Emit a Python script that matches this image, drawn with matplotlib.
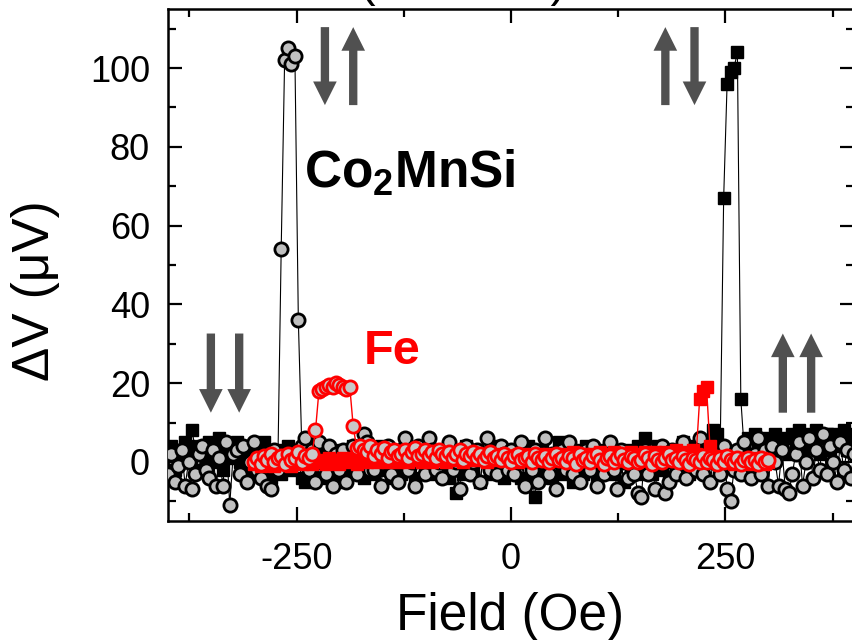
import numpy as np
import matplotlib
matplotlib.use('Agg')
import matplotlib.pyplot as plt
from matplotlib.ticker import MultipleLocator

plt.rcParams['font.family'] = ['Liberation Sans', 'DejaVu Sans']
plt.rcParams['mathtext.fontset'] = 'custom'
plt.rcParams['mathtext.rm'] = 'Liberation Sans'
plt.rcParams['mathtext.bf'] = 'Liberation Sans:bold'
plt.rcParams['axes.unicode_minus'] = False

# ---------------- data ----------------
field_cms = np.arange(-400, 401, 4)          # Oe, Co2MnSi sweeps
cms_circles = [                                # sweep with peak at negative field
    -3, 2, -5, -1, 3, -6, 0, -7, -3, 2, 4, -2, -4, 3, -6, 1, -6, 5, -11, 2,
    3, -3, 4, -5, 0, 5, -2, -4, 2, -6, -7, 3, -2, 54, 102, 105, 101, 103, 36, 4,
    6, -2, 3, -5, 5, 0, -3, 4, -6, 2, -2, 3, -5, 0, 4, -3, 2, 7, 5, -2,
    -2, 3, -6, 0, 4, -3, 2, -5, 3, 6, -2, 0, -6, 4, 2, -3, 6, 3, -2, 0,
    -4, 3, 5, -2, 0, -7, 2, 4, -3, 0, 3, -5, 2, 6, -2, 0, -3, 4, 2, -2,
    3, -3, 0, 5, -6, 2, -2, 3, -5, 0, 6, -3, 2, -7, 0, 3, -2, 5, -3, 2,
    -5, 0, 3, -2, 4, -6, 2, -3, 0, 5, -2, -7, 3, 0, -4, 2, -3, -8, -9, 3,
    -3, 2, -7, 0, 4, -8, -5, 3, -3, 2, 5, -4, 0, 3, -2, 6, -3, 2, -5, 0,
    2, -3, 4, -7, -10, -2, 3, -3, 5, 0, -4, 2, 6, -3, 3, -6, 4, 0, -6, 3,
    -7, -8, -3, 2, 5, -6, 0, 6, -4, 3, -2, 7, -3, 4, 0, -5, 5, -2, 3, -4, 2,
]
cms_squares = [                                # sweep with peak at positive field
    2, 4, -2, 3, 0, 5, 4, 8, 3, -2, 4, 1, 5, 0, 3, 6, -2, 4, 1, 3,
    5, 0, 3, -3, 4, 1, -2, 3, 5, 0, -4, 2, 3, -3, 0, 4, -2, 3, 0, -4,
    -5, 2, -3, 4, 0, -4, 3, -2, 2, -5, 0, 3, -3, 2, 4, -2, 0, -4, 3, 2,
    -3, 0, 4, -2, 3, -4, 2, 0, -3, 5, -2, 2, -4, 0, 3, -2, 4, -3, 0, 2,
    -2, 3, -4, 0, -8, 2, -3, 4, 0, -2, 3, -5, 2, 0, -3, 4, -2, 2, -4, 0,
    3, -2, 0, -4, 2, 4, -3, -9, 0, 3, -2, 2, -4, 0, 5, -3, 2, 0, -5, 3,
    0, -3, 4, -2, 2, -4, 3, 0, -2, 4, -3, 2, 0, -5, 3, -2, 2, 4, -3, 6,
    0, -3, 2, 4, -2, 3, -4, 0, 3, -2, 5, 2, -3, 4, 0, 3, -2, 4, 5, 8,
    7, 4, 67, 96, 99, 100, 104, 16, 3, 6, 2, 7, 4, 1, 6, 3, 2, 7, 4, 3,
    6, 2, 7, 4, 8, 3, 6, 7, 4, 8, 2, 6, 7, 3, 7, 4, 6, 8, 3, 7, 5,
]

field_fe = np.arange(-300, 301, 4)             # Oe, Fe sweeps
fe_circles = [
    0, 1, -0.5, 1.5, 0.5, 2, 0, 1, 1.5, -0.5, 2, 0.5, 1, 2.5, 0, 1.5, 1, 2,
    8, 18, 18.5, 19, 19.5, 19, 20, 19.5, 19, 18.5, 19, 9, 3.5,
    4, 3, 2.5, 4, 1.5, 3, 2, 3.5, 1, 2.5, 3, 1.5, 2, 3, 1, 2.5, 3.5, 1.5, 2, 3,
    1.5, 2.5, 1, 3, 2, 1.5, 2.5, 1, 2, 3, 0.5, 2, 1.5, 2.5, 1, 2, 0.5, 1.5, 2.5, 1,
    1.5, 0.5, 2, 1, 0, 1.5, 2, 0.5, 1, 1.5, 0, 2, 1, 0.5, 1.5, 0, 1, 2, 0.5, 1,
    0, 1.5, 1, -0.5, 2, 0.5, 1, 0, 1.5, 2, 0.5, -0.5, 1, 1.5, 0, 1, 2, 0.5, 0, 1.5,
    1, 0, 0.5, 2, 1, -0.5, 1.5, 0.5, 0, 1, 2, 0.5, 1, 0, 1.5, 0.5, -0.5, 1, 0.5, 0,
    1.5, 0, 1, 0.5, -0.5, 1, 0, 1.5, 0.5, 0, 1, -0.5, 0.5, 1, 0, 0.5, -0.5, 1, 0, 0.5,
]
fe_squares = [
    -0.5, 0, -1, 0.5, -0.5, 0, -1, 0.5, 0, -0.5, 0.5, -1, 0, 0.5, -0.5, 0, 1, -0.5, 0, 0.5,
    0, -0.5, 1, 0, 0.5, -0.5, 1, 0.5, 0, 1, -0.5, 0.5, 1, 0, 0.5, 1.5, 0, 0.5, 1, 0,
    0.5, 1, 0, 1.5, 0.5, 0, 1, 0.5, 1.5, 0, 1, 0.5, 0, 1.5, 1, 0.5, 0, 1, 1.5, 0.5,
    1, 0, 1.5, 0.5, 1, 2, 0.5, 1, 0, 1.5, 1, 0.5, 2, 1, 0.5, 1.5, 1, 0, 1.5, 2,
    0.5, 1, 1.5, 2, 0.5, 1, 2, 1.5, 0.5, 1, 2, 1.5, 1, 2.5, 1, 1.5, 2, 0.5, 1.5, 2,
    1, 2.5, 1.5, 1, 2, 2.5, 1, 1.5, 2, 1, 2.5, 1.5, 2, 1, 2.5, 2, 1.5, 2.5, 1, 2,
    2.5, 1.5, 2, 3, 1.5, 2, 2.5, 1.5, 3, 2,
    16, 18, 19, 4,
    1, 0.5, 1.5, 0, 1, 0.5, -0.5, 1, 0, 0.5, 1, -0.5, 0.5, 0, 1, -0.5, 0,
]

# magnetisation-state arrows: (field, tail, tip)
arrow_x = [-217, -184, 180, 214, -350, -317, 317, 350]
arrow_tail = [110.4, 90.6, 90.6, 110.4, 32.6, 32.6, 12.5, 12.5]
arrow_tip = [90.6, 110.4, 110.4, 90.6, 12.5, 12.5, 32.6, 32.6]

# ---------------- figure ----------------
fig = plt.figure(figsize=(8.52, 6.40), dpi=100)
ax = fig.add_axes([168 / 852, 1 - 521 / 640, 686 / 852, 512 / 640])

ax.plot(field_cms, cms_squares, '-', color='black', lw=0.8, marker='s',
        ms=8, mfc='black', mec='black', zorder=2)
ax.plot(field_cms, cms_circles, '-', color='black', lw=0.8, marker='o',
        ms=9.5, mfc='#c0c0c0', mec='black', mew=2.0, zorder=3)
ax.plot(field_fe, fe_squares, '-', color='red', lw=1.0, marker='s',
        ms=8, mfc='red', mec='red', zorder=4)
ax.plot(field_fe, fe_circles, '-', color='red', lw=1.0, marker='o',
        ms=9.5, mfc='#c8c8c8', mec='red', mew=2.0, zorder=5)

for x, t0, t1 in zip(arrow_x, arrow_tail, arrow_tip):
    ax.annotate('', xy=(x, t1), xytext=(x, t0),
                arrowprops=dict(arrowstyle='simple,head_length=0.85,head_width=0.85,tail_width=0.3',
                                mutation_scale=20, color='#505050', lw=0,
                                shrinkA=0, shrinkB=0), zorder=6)

ax.text(-241, 69.7, r'$\mathbf{Co_2MnSi}$', fontsize=37, ha='left', va='baseline')
ax.text(-172, 24.9, 'Fe', fontsize=35, fontweight='bold', color='red',
        ha='left', va='baseline')

ax.set_xlim(-400, 400)
ax.set_ylim(-15, 115)
ax.xaxis.set_major_locator(MultipleLocator(250))
ax.xaxis.set_minor_locator(MultipleLocator(125))
ax.yaxis.set_major_locator(MultipleLocator(20))
ax.yaxis.set_minor_locator(MultipleLocator(10))
ax.tick_params(which='both', direction='in', top=True, right=True, width=1.6)
ax.tick_params(which='major', length=10)
ax.tick_params(which='minor', length=5.5)
ax.tick_params(axis='x', labelsize=26, pad=15)
ax.tick_params(axis='y', labelsize=26, pad=13)
for s in ax.spines.values():
    s.set_linewidth(1.8)

fig.text(36 / 852, 1 - 291 / 640, 'ΔV (μV)', rotation=90, fontsize=37,
         ha='center', va='center')
fig.text(510 / 852, 10 / 640, 'Field (Oe)', fontsize=37, ha='center', va='baseline')
fig.text(0.543, 1.006, '(nonlocal)', fontsize=34, ha='center', va='baseline')

fig.savefig('out.png', dpi=100)
